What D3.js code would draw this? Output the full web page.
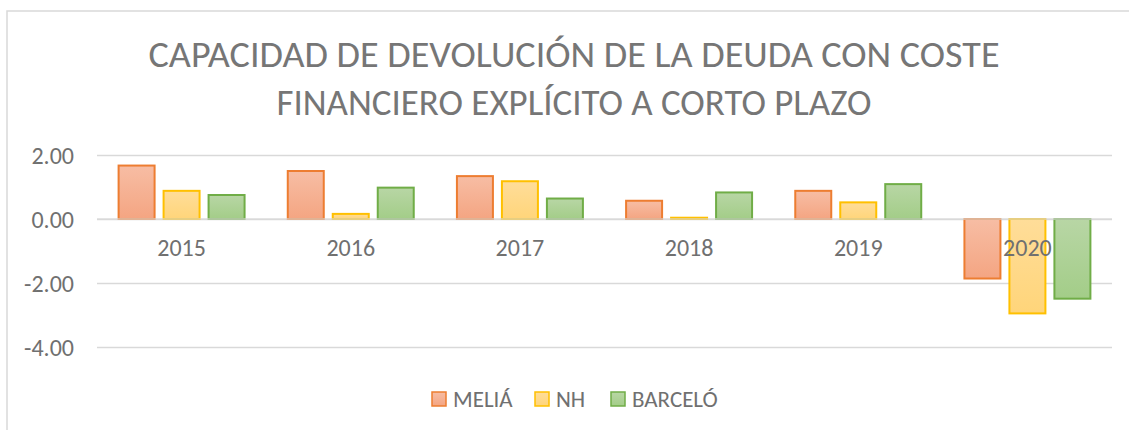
<!DOCTYPE html>
<html lang="es">
<head>
    <meta charset="UTF-8">
    <title>Capacidad de devolución de la deuda</title>
    <script src="https://d3js.org/d3.v7.min.js"></script>
    <style>
        body { margin: 0; background: #fff; }
        text { font-family: Carlito, "Liberation Sans Narrow", "DejaVu Sans Condensed", "Open Sans", sans-serif; fill: #707070; }
    </style>
</head>
<body>
    <svg width="1129" height="430"></svg>

    <script>
        // Datos
        const anios = ["2015", "2016", "2017", "2018", "2019", "2020"];
        const series = ["MELIÁ", "NH", "BARCELÓ"];
        const melia = [1.67, 1.50, 1.34, 0.57, 0.88, -1.86];
        const nh = [0.88, 0.16, 1.18, 0.04, 0.52, -2.95];
        const barcelo = [0.75, 0.98, 0.64, 0.83, 1.09, -2.49];
        const yTicks = [2, 0, -2, -4];
        const tituloLineas = ["CAPACIDAD DE DEVOLUCIÓN DE LA DEUDA CON COSTE", "FINANCIERO EXPLÍCITO A CORTO PLAZO"];

        const valores = [melia, nh, barcelo];
        const colores = [
            { stroke: "#ED7D31", top: "#F7BDA4", bottom: "#F4A582" },
            { stroke: "#FFC000", top: "#FFDD99", bottom: "#FFD57A" },
            { stroke: "#70AD47", top: "#B8D6A5", bottom: "#A3CD88" }
        ];

        const svg = d3.select("svg");

        // Borde del gráfico
        svg.append("rect")
            .attr("x", 7)
            .attr("y", 11)
            .attr("width", 1140)
            .attr("height", 440)
            .attr("fill", "none")
            .attr("stroke", "#d9d9d9")
            .attr("stroke-width", 1.5);

        // Gradientes
        const defs = svg.append("defs");
        colores.forEach((c, i) => {
            const g = defs.append("linearGradient")
                .attr("id", "grad" + i)
                .attr("x1", 0).attr("y1", 0).attr("x2", 0).attr("y2", 1);
            g.append("stop").attr("offset", "0%").attr("stop-color", c.top);
            g.append("stop").attr("offset", "100%").attr("stop-color", c.bottom);
        });

        // Título
        svg.selectAll(".titulo")
            .data(tituloLineas)
            .join("text")
            .attr("class", "titulo")
            .attr("x", 574)
            .attr("y", (d, i) => 67 + i * 48)
            .attr("text-anchor", "middle")
            .attr("textLength", (d, i) => i === 0 ? 851 : 595)
            .attr("lengthAdjust", "spacingAndGlyphs")
            .style("font-size", "37px")
            .style("fill", "#767676")
            .text(d => d);

        const left = 97, right = 1112;

        const x = d3.scaleBand()
            .domain(anios)
            .range([left, right]);

        const xs = d3.scaleBand()
            .domain(series)
            .range([0, x.bandwidth()])
            .paddingInner(0.2)
            .paddingOuter(0.48);

        const y = d3.scaleLinear()
            .domain([-4, 2])
            .range([347, 155]);

        const fmt = d => d3.format(".2f")(d).replace("−", "-");

        // Líneas de cuadrícula
        svg.append("g")
            .attr("transform", `translate(${left},0)`)
            .call(d3.axisLeft(y).tickValues(yTicks).tickSize(-(right - left)).tickFormat(fmt))
            .call(g => g.select(".domain").remove())
            .call(g => g.selectAll("line").attr("stroke", "#d9d9d9").attr("stroke-width", 1.5))
            .call(g => g.selectAll("text").attr("x", -23).attr("dy", "0.35em").style("font-size", "24px").style("fill", "#707070"));

        // Barras
        series.forEach((s, i) => {
            svg.append("g")
                .selectAll("rect")
                .data(valores[i])
                .join("rect")
                .attr("x", (d, j) => x(anios[j]) + xs(s))
                .attr("y", d => y(Math.max(0, d)))
                .attr("width", xs.bandwidth())
                .attr("height", d => Math.abs(y(d) - y(0)))
                .attr("fill", `url(#grad${i})`)
                .attr("stroke", colores[i].stroke)
                .attr("stroke-width", 2);
        });

        // Eje X (etiquetas)
        svg.append("g")
            .attr("transform", `translate(0,${y(0)})`)
            .call(d3.axisBottom(x).tickSize(0).tickPadding(20))
            .call(g => g.select(".domain").remove())
            .call(g => g.selectAll("text").style("font-size", "24px").style("fill", "#707070"));

        // Línea del cero encima de las barras
        svg.append("line")
            .attr("x1", left).attr("x2", right)
            .attr("y1", y(0)).attr("y2", y(0))
            .attr("stroke", "#d9d9d9")
            .attr("stroke-width", 1.5)
            .attr("opacity", 0.8);

        // Leyenda
        const leyendaX = [432, 535, 611];
        const leyenda = svg.append("g");
        series.forEach((s, i) => {
            leyenda.append("rect")
                .attr("x", leyendaX[i])
                .attr("y", 392)
                .attr("width", 14)
                .attr("height", 14)
                .attr("fill", `url(#grad${i})`)
                .attr("stroke", colores[i].stroke)
                .attr("stroke-width", 1.5);
            leyenda.append("text")
                .attr("x", leyendaX[i] + 21)
                .attr("y", 399)
                .attr("dy", "0.35em")
                .style("font-size", "23px")
                .text(s);
        });
    </script>
</body>
</html>
